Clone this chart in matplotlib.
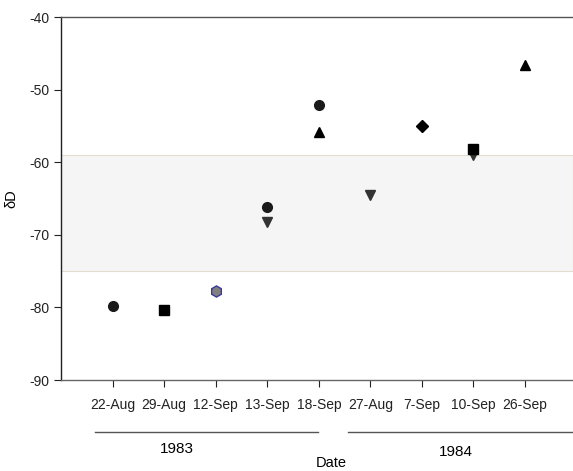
import matplotlib
matplotlib.use('Agg')
import matplotlib.pyplot as plt
import matplotlib.transforms as mtransforms

plt.rcParams['font.family'] = ['Liberation Sans', 'DejaVu Sans']
plt.rcParams['axes.unicode_minus'] = False

dates = ['22-Aug', '29-Aug', '12-Sep', '13-Sep', '18-Sep',
         '27-Aug', '7-Sep', '10-Sep', '26-Sep']
years = ['1983', '1984']

# x = position of the date label (1-based), y = dD value
circle_x = [1, 4, 5]
circle_y = [-79.8, -66.2, -52.1]
square_x = [2, 8]
square_y = [-80.4, -58.2]
hex_x = [3]
hex_y = [-77.8]
tri_down_x = [4, 6, 8]
tri_down_y = [-68.2, -64.5, -59.0]
tri_up_x = [5, 9]
tri_up_y = [-55.8, -46.6]
diamond_x = [7]
diamond_y = [-55.0]

band_low, band_high = -75, -59

fig = plt.figure(figsize=(5.73, 4.71), dpi=100)
ax = fig.add_axes([0.1065, 0.1932, 0.8935, 0.7707])

ax.axhspan(band_low, band_high, facecolor='#f5f5f5', edgecolor='#e2ddcf', linewidth=0.8, zorder=0)

ax.plot(tri_down_x, tri_down_y, 'v', color='#333333', markersize=7, linestyle='none', zorder=3)
ax.plot(circle_x, circle_y, 'o', color='#1a1a1a', markersize=7, linestyle='none', zorder=3)
ax.plot(square_x, square_y, 's', color='black', markersize=7, linestyle='none', zorder=4)
ax.plot(hex_x, hex_y, 'h', markerfacecolor='#808080', markeredgecolor='#3a3a9a', markersize=8, linestyle='none', zorder=3)
ax.plot(tri_up_x, tri_up_y, '^', color='black', markersize=7, linestyle='none', zorder=3)
ax.plot(diamond_x, diamond_y, 'D', color='black', markersize=6, linestyle='none', zorder=3)

ax.set_xlim(0, 9.93)
ax.set_ylim(-90, -40)
ax.set_yticks(range(-90, -39, 10))
ax.set_xticks(range(1, 10))
ax.set_xticklabels(dates)

ax.spines['right'].set_visible(False)
ax.spines['left'].set_color('#222222')
ax.spines['top'].set_color('#555555')
ax.spines['bottom'].set_color('#666666')
for s in ax.spines.values():
    s.set_linewidth(1.0)
ax.tick_params(axis='both', labelsize=10, colors='#222222', length=5)
ax.tick_params(axis='x', pad=8)

ax.set_ylabel('δD', fontsize=10.5, labelpad=8)

# year brackets under the date labels
trans = mtransforms.blended_transform_factory(ax.transData, ax.transAxes)
ax.plot([0.65, 4.99], [-0.143, -0.143], color='#555555', lw=1, transform=trans, clip_on=False)
ax.plot([5.57, 9.93], [-0.143, -0.143], color='#555555', lw=1, transform=trans, clip_on=False)
ax.text(2.24, -0.19, years[0], transform=trans, ha='center', va='center', fontsize=11)
ax.text(7.65, -0.198, years[1], transform=trans, ha='center', va='center', fontsize=11)
ax.text(5.24, -0.229, 'Date', transform=trans, ha='center', va='center', fontsize=10.5)

fig.savefig('out.png', dpi=100)
